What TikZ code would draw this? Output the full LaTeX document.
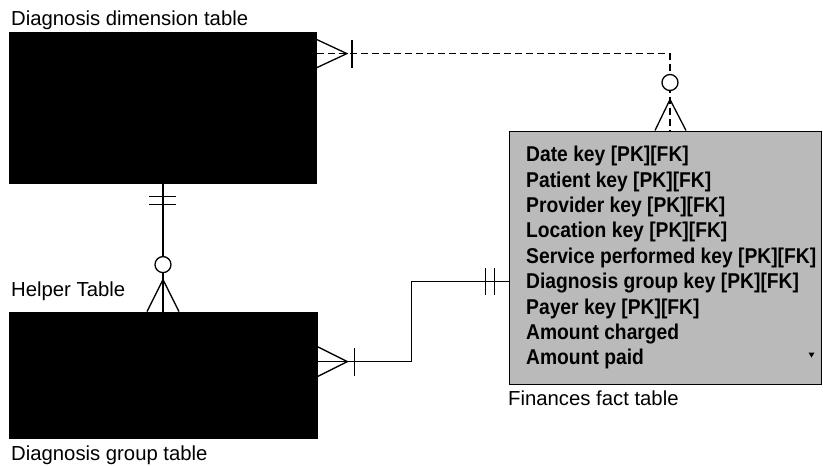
\documentclass[tikz,border=0pt]{standalone}
\usepackage{fontspec}
\setmainfont{Liberation Sans}
\newfontfamily\fieldfont{Liberation Sans}[FakeStretch=0.9]
\usetikzlibrary{calc}

\begin{document}
\begin{tikzpicture}[x=1pt, y=-1pt,
  darktab/.style={draw, fill=black, line width=0.8pt, inner sep=0pt},
  facttab/.style={draw, fill=black!27, line width=1pt, inner sep=0pt},
  lbl/.style={anchor=base west, inner sep=0pt, font=\fontsize{20.3}{24}\selectfont},
  fld/.style={anchor=north west, inner sep=0pt, align=left, font=\fieldfont\bfseries\fontsize{21.4}{25.4}\selectfont},
  rel/.style={line width=1.3pt},
  reldash/.style={rel, dash pattern=on 7pt off 4pt},
  optc/.style={rel, fill=white},
]
\useasboundingbox (0,0) rectangle (823,466);

% ─── Tables ───
\node[darktab, minimum width=307pt, minimum height=151pt] (dimtab) at (163,107.5) {};
\node[darktab, minimum width=308pt, minimum height=126pt] (grptab) at (163,375) {};
\node[facttab, minimum width=312pt, minimum height=253pt] (facttab) at (665,257.5) {};
\node[fld] (factcols) at (526,146) {Date key [PK][FK]\\Patient key [PK][FK]\\Provider key [PK][FK]\\Location key [PK][FK]\\Service performed key [PK][FK]\\Diagnosis group key [PK][FK]\\Payer key [PK][FK]\\Amount charged\\Amount paid};
\fill ($(facttab.south east)+(-13,-32)$) -- ++(6,0) -- ++(-3,5) -- cycle;

% ─── Table titles ───
\node[lbl] (dimlbl) at (11,25) {Diagnosis dimension table};
\node[lbl] (helplbl) at (11,296) {Helper Table};
\node[lbl] (grplbl) at (11,460) {Diagnosis group table};
\node[lbl] (factlbl) at (508,405) {Finances fact table};

% ─── Dimension -> fact (dashed, one to zero-or-many) ───
\coordinate (dimR) at ($(dimtab.north east)+(0,22)$);
\coordinate (factT) at ($(facttab.north)+(5,0)$);
\draw[reldash] (dimR) -| (factT);
\draw[rel] ($(dimR)+(0,-14)$) -- ++(30,14) -- ($(dimR)+(0,14)$);
\draw[rel] ($(dimR)+(35,-14)$) -- ++(0,28);
\draw[optc] ($(factT)+(0,-48)$) circle[radius=8];
\draw[rel] ($(factT)+(-15,0)$) -- ++(15,-31) -- ++(16,31);

% ─── Dimension -> helper table (one-and-only-one to zero-or-many) ───
\draw[rel] (dimtab.south) -- (grptab.north);
\draw[rel] ($(dimtab.south)+(-14,13)$) -- ++(27,0);
\draw[rel] ($(dimtab.south)+(-14,21)$) -- ++(27,0);
\draw[optc] ($(grptab.north)+(0,-47)$) circle[radius=8];
\draw[rel] ($(grptab.north)+(-16,0)$) -- ++(16,-32) -- ++(16,32);

% ─── Group -> fact (many to one-and-only-one) ───
\coordinate (grpR) at ($(grptab.north east)+(0,50)$);
\coordinate (factL) at ($(facttab.north west)+(0,151)$);
\draw[rel] (grpR) -- ++(94,0) |- (factL);
\draw[rel] ($(grpR)+(0,-15)$) -- ++(30,15) -- ($(grpR)+(0,15)$);
\draw[rel] ($(grpR)+(37,-14)$) -- ++(0,28);
\draw[rel] ($(factL)+(-23,-14)$) -- ++(0,27);
\draw[rel] ($(factL)+(-14,-14)$) -- ++(0,27);

\end{tikzpicture}
\end{document}
